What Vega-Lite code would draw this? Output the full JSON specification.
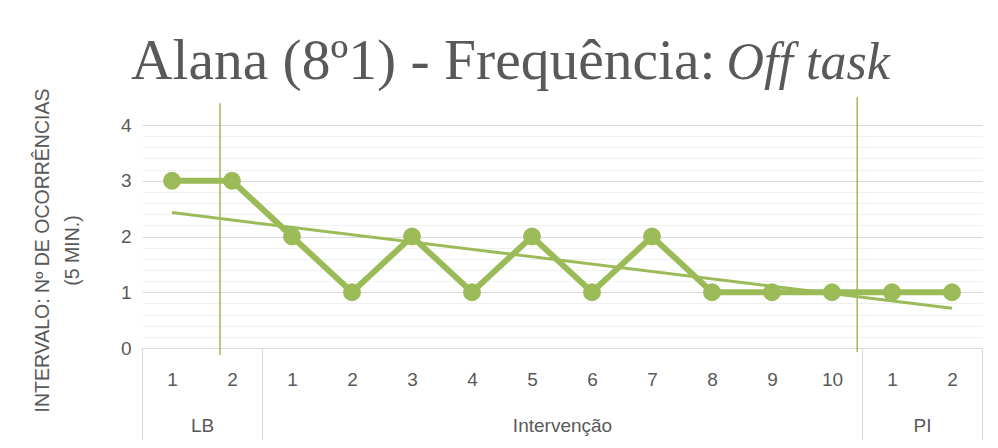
{
  "$schema": "https://vega.github.io/schema/vega-lite/v6.json",
  "width": 840,
  "height": 223,
  "autosize": {"type": "none"},
  "padding": {"left": 142, "top": 125, "right": 16, "bottom": 100},
  "background": "white",
  "config": {
    "view": {"stroke": null},
    "axis": {
      "labelFont": "Liberation Sans",
      "labelColor": "#595959",
      "labelFontSize": 19,
      "titleColor": "#595959",
      "titleFontWeight": "normal",
      "labelOverlap": false
    }
  },
  "datasets": {
    "sessoes": [
      {"i": 1, "fase": "LB", "sessao": 1, "valor": 3},
      {"i": 2, "fase": "LB", "sessao": 2, "valor": 3},
      {"i": 3, "fase": "Intervenção", "sessao": 1, "valor": 2},
      {"i": 4, "fase": "Intervenção", "sessao": 2, "valor": 1},
      {"i": 5, "fase": "Intervenção", "sessao": 3, "valor": 2},
      {"i": 6, "fase": "Intervenção", "sessao": 4, "valor": 1},
      {"i": 7, "fase": "Intervenção", "sessao": 5, "valor": 2},
      {"i": 8, "fase": "Intervenção", "sessao": 6, "valor": 1},
      {"i": 9, "fase": "Intervenção", "sessao": 7, "valor": 2},
      {"i": 10, "fase": "Intervenção", "sessao": 8, "valor": 1},
      {"i": 11, "fase": "Intervenção", "sessao": 9, "valor": 1},
      {"i": 12, "fase": "Intervenção", "sessao": 10, "valor": 1},
      {"i": 13, "fase": "PI", "sessao": 1, "valor": 1},
      {"i": 14, "fase": "PI", "sessao": 2, "valor": 1}
    ],
    "fases": [
      {"fase": "LB", "inicio": 0.5, "fim": 2.5, "centro": 1.5},
      {"fase": "Intervenção", "inicio": 2.5, "fim": 12.5, "centro": 7.5},
      {"fase": "PI", "inicio": 12.5, "fim": 14.5, "centro": 13.5}
    ],
    "mudancas": [
      {"x": 1.8, "y1": -0.126, "y2": 4.39},
      {"x": 12.42, "y1": -0.07, "y2": 4.5}
    ]
  },
  "layer": [
    {
      "data": {"name": "sessoes"},
      "encoding": {
        "x": {
          "field": "i",
          "type": "quantitative",
          "scale": {"domain": [0.5, 14.5], "nice": false, "zero": false},
          "axis": {
            "orient": "bottom",
            "values": [1, 2, 3, 4, 5, 6, 7, 8, 9, 10, 11, 12, 13, 14],
            "tickCount": 30,
            "labelExpr": "datum.value <= 2 ? datum.value : datum.value <= 12 ? datum.value - 2 : datum.value - 12",
            "ticks": false,
            "grid": false,
            "domain": true,
            "domainColor": "#d9d9d9",
            "labelPadding": 31,
            "labelBaseline": "middle",
            "labelFlush": false,
            "title": null
          }
        },
        "y": {
          "field": "valor",
          "type": "quantitative",
          "scale": {"domain": [0, 4], "nice": false},
          "axis": {
            "values": [0, 0.2, 0.4, 0.6, 0.8, 1, 1.2, 1.4, 1.6, 1.8, 2, 2.2, 2.4, 2.6, 2.8, 3, 3.2, 3.4, 3.6, 3.8, 4],
            "tickCount": 40,
            "grid": true,
            "gridColor": {"condition": {"test": "datum.value % 1 === 0", "value": "#d9d9d9"}, "value": "#f0f0f0"},
            "labelExpr": "datum.value % 1 === 0 ? '' + datum.value : ''",
            "ticks": false,
            "domain": false,
            "labelPadding": 11,
            "title": ["INTERVALO: Nº DE OCORRÊNCIAS", "(5 MIN.)"],
            "titleFont": "Liberation Sans",
            "titleFontSize": 19.5,
            "titleLineHeight": 30,
            "titleAngle": -90,
            "titleAlign": "center",
            "titleBaseline": "middle",
            "titleX": -100,
            "titleY": 125
          }
        }
      },
      "layer": [
        {
          "transform": [{"regression": "valor", "on": "i", "extent": [1, 14]}],
          "mark": {"type": "line", "color": "#9BBB59", "strokeWidth": 3}
        },
        {
          "mark": {"type": "line", "color": "#9BBB59", "strokeWidth": 6}
        },
        {
          "mark": {"type": "circle", "color": "#9BBB59", "size": 320, "opacity": 1}
        }
      ]
    },
    {
      "data": {"name": "mudancas"},
      "mark": {"type": "rule", "color": "#9BBB59", "strokeWidth": 1.5},
      "encoding": {
        "x": {"field": "x", "type": "quantitative", "scale": {"domain": [0.5, 14.5], "nice": false, "zero": false}, "axis": null},
        "y": {"field": "y1", "type": "quantitative", "scale": {"domain": [0, 4], "nice": false}},
        "y2": {"field": "y2"}
      }
    },
    {
      "data": {"name": "fases"},
      "mark": {"type": "point", "opacity": 0},
      "encoding": {
        "x": {
          "field": "inicio",
          "type": "quantitative",
          "scale": {"domain": [0.5, 14.5], "nice": false, "zero": false},
          "axis": {
            "orient": "bottom",
            "values": [0.5, 2.5, 12.5, 14.5],
            "labels": false,
            "ticks": true,
            "tickSize": 92,
            "tickColor": "#d9d9d9",
            "tickWidth": 1,
            "domain": false,
            "grid": false,
            "title": "Alana (8º1) - Frequência:",
            "titleX": 573,
            "titleY": -270,
            "titleAlign": "right",
            "titleBaseline": "alphabetic",
            "titleAngle": 0,
            "titleFont": "Liberation Serif",
            "titleFontSize": 57.5
          }
        }
      }
    },
    {
      "data": {"name": "fases"},
      "mark": {"type": "point", "opacity": 0},
      "encoding": {
        "x": {
          "field": "centro",
          "type": "quantitative",
          "scale": {"domain": [0.5, 14.5], "nice": false, "zero": false},
          "axis": {
            "orient": "bottom",
            "values": [1.5, 7.5, 13.5],
            "labelExpr": "datum.value < 2 ? 'LB' : datum.value < 13 ? 'Intervenção' : 'PI'",
            "ticks": false,
            "domain": false,
            "grid": false,
            "labelPadding": 77,
            "labelBaseline": "middle",
            "labelFlush": false,
            "title": "Off task",
            "titleX": 584,
            "titleY": -270,
            "titleAlign": "left",
            "titleBaseline": "alphabetic",
            "titleAngle": 0,
            "titleFont": "Liberation Serif",
            "titleFontStyle": "italic",
            "titleFontSize": 52
          }
        }
      }
    }
  ],
  "resolve": {"scale": {"x": "independent"}, "axis": {"x": "independent"}}
}
